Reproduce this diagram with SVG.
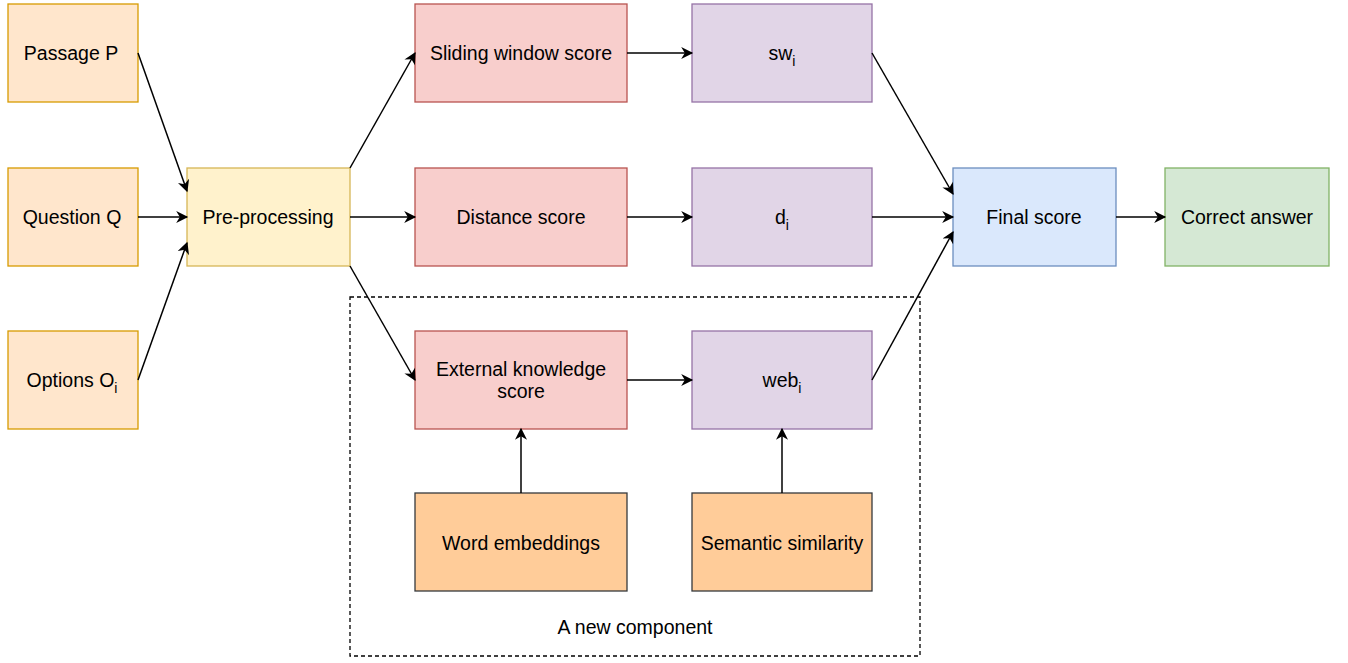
<svg xmlns="http://www.w3.org/2000/svg" width="1348" height="663" viewBox="0 0 1348 663">
<style>
text{font-family:"Liberation Sans",Arial,Helvetica,sans-serif;font-size:19.5px;fill:#000;text-anchor:middle}
.sub{font-size:14px}
.or{fill:#ffe6cc;stroke:#d79b00;stroke-width:1.3}
.ye{fill:#fff2cc;stroke:#d6b656;stroke-width:1.3}
.re{fill:#f8cecc;stroke:#b85450;stroke-width:1.3}
.pu{fill:#e1d5e7;stroke:#9673a6;stroke-width:1.3}
.bl{fill:#dae8fc;stroke:#6c8ebf;stroke-width:1.3}
.gr{fill:#d5e8d4;stroke:#82b366;stroke-width:1.3}
.dk{fill:#ffcc99;stroke:#36393d;stroke-width:1.3}
.edge{fill:none;stroke:#000;stroke-width:1.5;marker-end:url(#arr)}
</style>
<defs>
<marker id="arr" viewBox="0 0 10 10" refX="9" refY="5" markerWidth="14" markerHeight="12" markerUnits="userSpaceOnUse" orient="auto">
<path d="M0,0 L10,5 L0,10 L3,5 z" fill="#000"/>
</marker>
</defs>
<rect width="1348" height="663" fill="#fff"/>
<g id="group-new-component">
<rect x="350" y="297" width="570" height="359" fill="none" stroke="#000" stroke-width="1.3" stroke-dasharray="4 3"/>
<text x="635" y="634">A new component</text>
</g>
<g id="passage"><rect class="or" x="8" y="4" width="130" height="98"/><text x="71" y="60">Passage P</text></g>
<g id="question"><rect class="or" x="8" y="168" width="130" height="98"/><text x="72" y="224">Question Q</text></g>
<g id="options"><rect class="or" x="8" y="331" width="130" height="98"/><text x="72" y="387">Options O<tspan class="sub" dy="6">i</tspan></text></g>
<g id="preprocessing"><rect class="ye" x="187" y="168" width="163" height="98"/><text x="268" y="224">Pre-processing</text></g>
<g id="sliding"><rect class="re" x="415" y="4" width="212" height="98"/><text x="521" y="60">Sliding window score</text></g>
<g id="distance"><rect class="re" x="415" y="168" width="212" height="98"/><text x="521" y="224">Distance score</text></g>
<g id="external"><rect class="re" x="415" y="331" width="212" height="98"/><text x="521" y="376">External knowledge</text><text x="521" y="398">score</text></g>
<g id="sw"><rect class="pu" x="692" y="4" width="180" height="98"/><text x="782" y="60">sw<tspan class="sub" dy="6">i</tspan></text></g>
<g id="d"><rect class="pu" x="692" y="168" width="180" height="98"/><text x="782" y="224">d<tspan class="sub" dy="6">i</tspan></text></g>
<g id="web"><rect class="pu" x="692" y="331" width="180" height="98"/><text x="782" y="387">web<tspan class="sub" dy="6">i</tspan></text></g>
<g id="word"><rect class="dk" x="415" y="493" width="212" height="98"/><text x="521" y="550">Word embeddings</text></g>
<g id="semantic"><rect class="dk" x="692" y="493" width="180" height="98"/><text x="782" y="550">Semantic similarity</text></g>
<g id="final"><rect class="bl" x="953" y="168" width="163" height="98"/><text x="1034" y="224">Final score</text></g>
<g id="correct"><rect class="gr" x="1165" y="168" width="164" height="98"/><text x="1247" y="224">Correct answer</text></g>
<g id="connectors">
<path class="edge" d="M138,53 L187,191"/>
<path class="edge" d="M138,217 L187,217"/>
<path class="edge" d="M138,380 L187,243"/>
<path class="edge" d="M350,168 L415,53"/>
<path class="edge" d="M350,217 L415,217"/>
<path class="edge" d="M350,266 L415,380"/>
<path class="edge" d="M627,53 L692,53"/>
<path class="edge" d="M627,217 L692,217"/>
<path class="edge" d="M627,380 L692,380"/>
<path class="edge" d="M872,53 L953,194"/>
<path class="edge" d="M872,217 L953,217"/>
<path class="edge" d="M872,380 L953,232"/>
<path class="edge" d="M1116,217 L1165,217"/>
<path class="edge" d="M521,493 L521,429"/>
<path class="edge" d="M782,493 L782,429"/>
</g>
</svg>
